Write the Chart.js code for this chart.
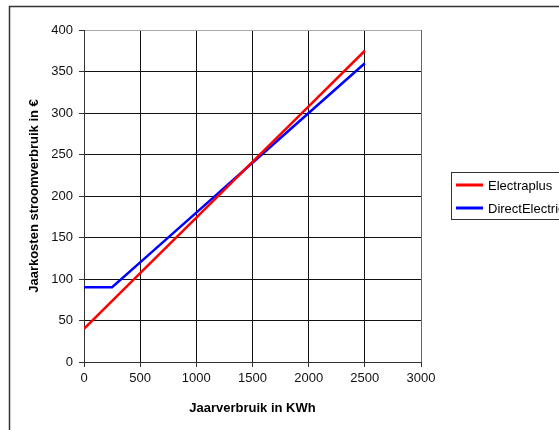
<!DOCTYPE html>
<html><head><meta charset="utf-8">
<script src="https://cdn.jsdelivr.net/npm/chart.js@4.4.1/dist/chart.umd.min.js"></script>
<style>html,body{margin:0;padding:0;overflow:hidden;background:#fff;width:559px;height:430px}canvas{display:block}</style>
</head><body>
<canvas id="c" width="640" height="430"></canvas>
<script>
const seriesNames = ['Electraplus', 'DirectElectric'];
const redX = [0, 500, 1000, 1500, 2000, 2500];
const redY = [40, 107, 174, 241, 308, 375];
const blueX = [0, 250, 500, 1000, 1500, 2000, 2500];
const blueY = [90, 90, 120, 180, 240, 300, 360];
const xTicks = [0, 500, 1000, 1500, 2000, 2500, 3000];
const yTicks = [0, 50, 100, 150, 200, 250, 300, 350, 400];
const xTitle = 'Jaarverbruik in KWh';
const yTitle = 'Jaarkosten stroomverbruik in €';
const FONT = 'Liberation Sans, Arial, sans-serif';

const pts = (xs, ys) => xs.map((x, i) => ({x: x, y: ys[i]}));

const framePlugin = {
  id: 'frame',
  beforeDraw(chart) {
    const c = chart.ctx;
    c.save();
    c.fillStyle = '#fff';
    c.fillRect(0, 0, chart.width, chart.height);
    c.strokeStyle = '#333';
    c.lineWidth = 1.5;
    c.beginPath();
    c.moveTo(9.5, chart.height + 5);
    c.lineTo(9.5, 6.5);
    c.lineTo(chart.width + 5, 6.5);
    c.stroke();
    c.restore();
  }
};

const legendPlugin = {
  id: 'customLegend',
  afterDraw(chart) {
    const c = chart.ctx;
    c.save();
    c.font = '13px ' + FONT;
    const x0 = 451, y0 = 172;
    let maxW = 0;
    chart.data.datasets.forEach(d => { maxW = Math.max(maxW, c.measureText(d.label).width); });
    const w = 36 + maxW + 6, h = 47;
    c.strokeStyle = '#333';
    c.lineWidth = 1;
    c.strokeRect(x0 + 0.5, y0 + 0.5, w, h);
    chart.data.datasets.forEach((d, i) => {
      const y = y0 + 13 + i * 23;
      c.strokeStyle = d.borderColor;
      c.lineWidth = 3;
      c.beginPath();
      c.moveTo(x0 + 5, y);
      c.lineTo(x0 + 32, y);
      c.stroke();
      c.fillStyle = '#000';
      c.textBaseline = 'middle';
      c.textAlign = 'left';
      c.fillText(d.label, x0 + 37, y + 1);
    });
    c.restore();
  }
};

new Chart(document.getElementById('c'), {
  type: 'line',
  data: {
    datasets: [
      {label: seriesNames[0], data: pts(redX, redY), borderColor: '#ff0000', borderWidth: 2.5, pointRadius: 0, tension: 0, fill: false},
      {label: seriesNames[1], data: pts(blueX, blueY), borderColor: '#0000ff', borderWidth: 2.5, pointRadius: 0, tension: 0, fill: false}
    ]
  },
  options: {
    responsive: false,
    animation: false,
    layout: {padding: {left: 0, top: 30, right: 219, bottom: 0}},
    plugins: {legend: {display: false}, tooltip: {enabled: false}},
    scales: {
      x: {
        type: 'linear', min: 0, max: 3000,
        afterBuildTicks: s => { s.ticks = xTicks.map(v => ({value: v})); },
        afterFit: s => { s.height = 68; },
        ticks: {color: '#111', font: {family: FONT, size: 13}, padding: 4, maxRotation: 0, callback: v => String(v)},
        grid: {color: ctx => (ctx.tick && ctx.tick.value === 3000) ? '#666' : '#111', lineWidth: 1, tickLength: 5, tickColor: '#333'},
        border: {color: '#333', width: 1},
        title: {display: true, text: xTitle, color: '#000', font: {family: FONT, size: 13, weight: 'bold'}, padding: {top: 0, bottom: 14}}
      },
      y: {
        type: 'linear', min: 0, max: 400,
        afterBuildTicks: s => { s.ticks = yTicks.map(v => ({value: v})); },
        afterFit: s => { s.width = 84; },
        ticks: {color: '#111', font: {family: FONT, size: 13}, padding: 6, callback: v => String(v)},
        grid: {color: ctx => (ctx.tick && ctx.tick.value === 400) ? '#aaa' : '#111', lineWidth: 1, tickLength: 5, tickColor: '#333'},
        border: {color: '#333', width: 1},
        title: {display: true, text: yTitle, color: '#000', font: {family: FONT, size: 13, weight: 'bold'}, padding: {top: 27, bottom: 0}}
      }
    }
  },
  plugins: [framePlugin, legendPlugin]
});
</script>
</body></html>
